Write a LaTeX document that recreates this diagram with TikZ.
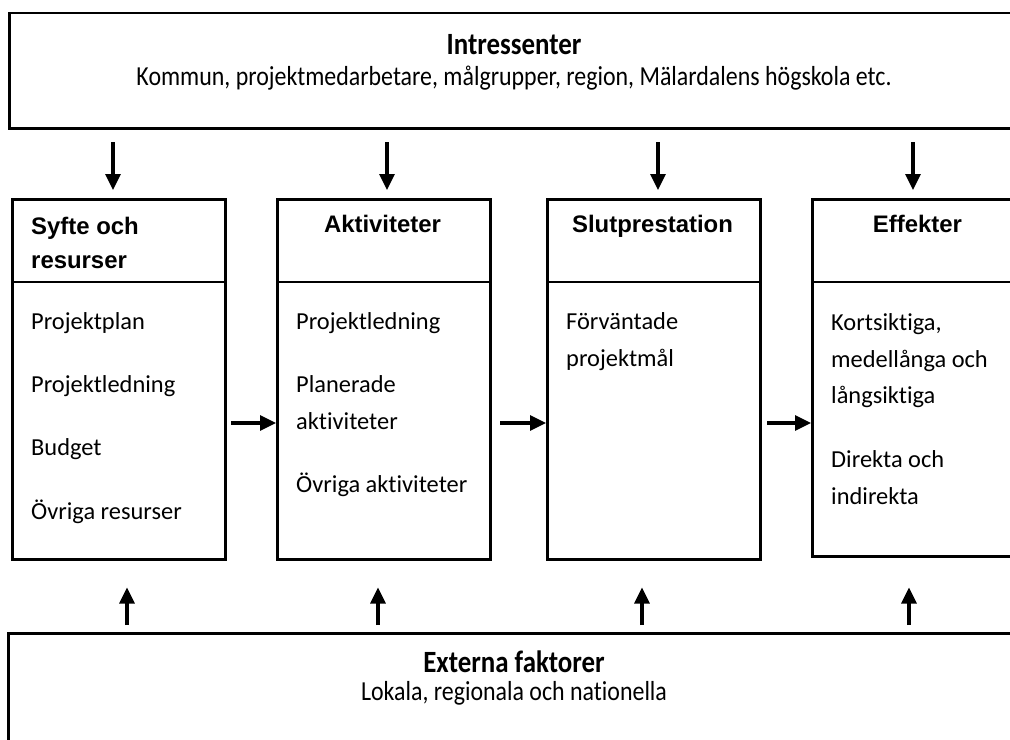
\documentclass[tikz,border=0pt]{standalone}
\usepackage{fontspec}
\setmainfont{Carlito}[Ligatures=CommonOff]
\newfontfamily\headfont{Liberation Sans}
\usetikzlibrary{arrows.meta,positioning}

\tikzset{
    frame/.style={draw, line width=2.5bp, inner sep=0pt, anchor=north west},
    column/.style={frame, minimum width=213bp, minimum height=360bp},
    coltitle/.style={font=\headfont\bfseries\fontsize{24}{34}\selectfont, inner sep=0pt},
    colbody/.style={font=\fontsize{24.5}{37}\selectfont, align=left, inner sep=0pt, anchor=north west},
    bandtitle/.style={font=\bfseries\fontsize{27}{30}\selectfont, inner sep=0pt},
    bandtext/.style={font=\fontsize{24}{30}\selectfont, inner sep=0pt},
    flow/.style={line width=3.2bp, -{Triangle[length=16bp,width=15bp]}},
}
\newcommand{\tall}[1]{\scalebox{1}[1.15]{#1}}

\begin{document}
\begin{tikzpicture}[x=1bp, y=-1bp]
    \useasboundingbox (0, 0) rectangle (1010, 740);
    \fill[white] (0, 0) rectangle (1010, 740);

    % Intressenter
    \node[frame, minimum width=1030bp, minimum height=115bp] (stake) at (8, 12) {};
    \node[bandtitle] (stakeT) at (514, 45) {\tall{Intressenter}};
    \node[bandtext] (stakeS) at (514, 78) {\tall{Kommun, projektmedarbetare, målgrupper, region, Mälardalens högskola etc.}};

    % Externa faktorer
    \node[frame, minimum width=1030bp, minimum height=140bp] (ext) at (7, 632) {};
    \node[bandtitle] (extT) at (514, 662) {\tall{Externa faktorer}};
    \node[bandtext] (extS) at (514, 693) {\tall{Lokala, regionala och nationella}};

    % the four columns
    \node[column] (col1) at (11, 198) {};
    \node[column] (col2) at (276, 198) {};
    \node[column] (col3) at (546, 198) {};
    \node[column, minimum height=357bp] (col4) at (811, 198) {};

    \draw[line width=2bp] ([yshift=-84bp]col1.north west) -- ([yshift=-84bp]col1.north east);
    \draw[line width=2bp] ([yshift=-84bp]col2.north west) -- ([yshift=-84bp]col2.north east);
    \draw[line width=2bp] ([yshift=-84bp]col3.north west) -- ([yshift=-84bp]col3.north east);
    \draw[line width=2bp] ([yshift=-84bp]col4.north west) -- ([yshift=-84bp]col4.north east);

    \node[coltitle, align=left, anchor=north west] (head1) at (31, 217) {Syfte och\\resurser};
    \node[coltitle, anchor=base] (head2) at (382.5, 232) {Aktiviteter};
    \node[coltitle, anchor=base] (head3) at (652.5, 232) {Slutprestation};
    \node[coltitle, anchor=base] (head4) at (917.5, 232) {Effekter};

    \node[colbody] (body1) at (31, 312) {Projektplan\\[26.5bp]Projektledning\\[26.5bp]Budget\\[26.5bp]Övriga resurser};
    \node[colbody] (body2) at (296, 312) {Projektledning\\[26.5bp]Planerade\\aktiviteter\\[26.5bp]Övriga aktiviteter};
    \node[colbody] (body3) at (566, 312) {Förväntade\\projektmål};
    \node[colbody] (body4) at (831, 313) {Kortsiktiga,\\medellånga och\\långsiktiga\\[26.5bp]Direkta och\\indirekta};

    % arrows from Intressenter
    \coordinate (in1) at (113, 142);
    \coordinate (in2) at (387, 142);
    \coordinate (in3) at (658, 142);
    \coordinate (in4) at (913, 142);
    \draw[flow, shorten >=8bp] (in1) -- (in1 |- col1.north);
    \draw[flow, shorten >=8bp] (in2) -- (in2 |- col2.north);
    \draw[flow, shorten >=8bp] (in3) -- (in3 |- col3.north);
    \draw[flow, shorten >=8bp] (in4) -- (in4 |- col4.north);

    % flow between columns
    \coordinate (r1) at (231, 423);
    \coordinate (r2) at (500, 423);
    \coordinate (r3) at (767, 423);
    \draw[flow] (r1) -- (r1 -| col2.west);
    \draw[flow] (r2) -- (r2 -| col3.west);
    \draw[flow] (r3) -- (r3 -| col4.west);

    % arrows from Externa faktorer
    \coordinate (up1) at (127, 625);
    \coordinate (up2) at (378, 625);
    \coordinate (up3) at (642, 625);
    \coordinate (up4) at (909, 625);
    \draw[flow, shorten >=27bp] (up1) -- (up1 |- col1.south);
    \draw[flow, shorten >=27bp] (up2) -- (up2 |- col2.south);
    \draw[flow, shorten >=27bp] (up3) -- (up3 |- col3.south);
    \draw[flow, shorten >=30bp] (up4) -- (up4 |- col4.south);
\end{tikzpicture}
\end{document}
